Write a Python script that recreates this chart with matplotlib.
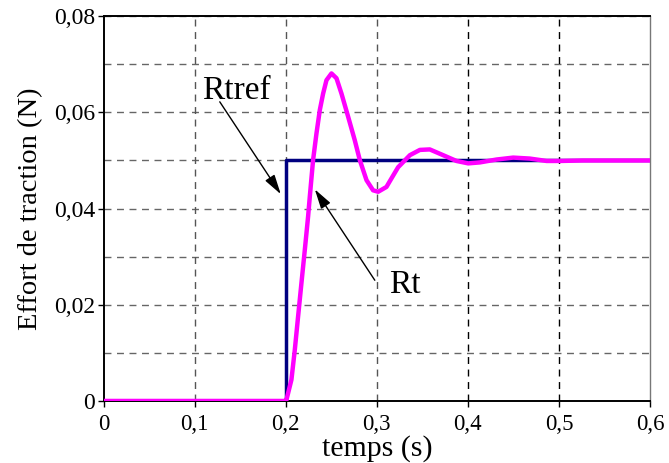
import numpy as np
import matplotlib
matplotlib.use("Agg")
import matplotlib.pyplot as plt
from matplotlib.ticker import FuncFormatter

plt.rcParams['font.family'] = ['Liberation Serif', 'DejaVu Serif']

# reference step Rtref
tref = [0.0, 0.2, 0.2, 0.6]
rtref = [0.0, 0.0, 0.05, 0.05]

t = [0.0, 0.199, 0.2007, 0.2062, 0.2099, 0.2135, 0.2172, 0.2209, 0.2245, 0.2264,
     0.2300, 0.2337, 0.2374, 0.2410, 0.2447, 0.2502, 0.2557, 0.2612, 0.2685,
     0.2758, 0.2813, 0.2887, 0.2959, 0.3015, 0.3106, 0.3143, 0.3234, 0.3363,
     0.3473, 0.3582, 0.3729, 0.3875, 0.4004, 0.4132, 0.4315, 0.4498, 0.4680,
     0.4865, 0.5010, 0.5260, 0.6000]
rt = [0.0, 0.0, 0.0002, 0.0044, 0.0106, 0.0175, 0.0245, 0.0314, 0.0383, 0.0425,
      0.0501, 0.0556, 0.0605, 0.0639, 0.0667, 0.0681, 0.0671, 0.0639, 0.0591,
      0.0542, 0.0501, 0.0459, 0.0438, 0.0435, 0.0445, 0.0457, 0.0486, 0.0511,
      0.0522, 0.0523, 0.0511, 0.0499, 0.0494, 0.0496, 0.0502, 0.0506, 0.0504,
      0.0499, 0.0499, 0.0500, 0.0500]

xticks = [0.0, 0.1, 0.2, 0.3, 0.4, 0.5, 0.6]
yticks = [0.0, 0.02, 0.04, 0.06, 0.08]


def comma(v, pos):
    if abs(v) < 1e-12:
        return "0"
    return ("%g" % v).replace(".", ",")


fig = plt.figure(figsize=(6.69, 4.63), dpi=100)
ax = fig.add_axes([0.155, 0.134, 0.8165, 0.831])

# grid (dashed)
for yv in np.arange(0.01, 0.08, 0.01):
    ax.axhline(yv, color='#666666', lw=1.0, ls=(0, (5, 4)), zorder=1)
for xv in xticks[1:-1]:
    ax.axvline(xv, color='#555555' if xv < 0.35 else 'black', lw=1.0,
               ls=(0, (5, 4)), zorder=1)

ax.plot(tref, rtref, color='#000080', lw=2.5, zorder=3)
ax.plot(t, rt, color='#ff00ff', lw=3.2, zorder=4, solid_joinstyle='round')

arrow = dict(arrowstyle='-|>,head_length=1.0,head_width=0.28', color='black',
             lw=1.0, shrinkA=0, shrinkB=0, mutation_scale=12)
ax.annotate("", xy=(0.1945, 0.0430), xytext=(0.1275, 0.0622), arrowprops=arrow, zorder=5)
ax.annotate("", xy=(0.2319, 0.0440), xytext=(0.2978, 0.0251), arrowprops=arrow, zorder=5)
ax.text(0.1462, 0.0628, "Rtref", fontsize=24, ha='center', va='baseline', zorder=6)
ax.text(0.3308, 0.0225, "Rt", fontsize=24, ha='center', va='baseline', zorder=6)

ax.set_xlim(0, 0.6)
ax.set_ylim(0, 0.08)
ax.set_xticks(xticks)
ax.set_yticks(yticks)
ax.xaxis.set_major_formatter(FuncFormatter(comma))
ax.yaxis.set_major_formatter(FuncFormatter(comma))
ax.tick_params(direction='out', width=1, labelsize=17)
ax.tick_params(axis='x', length=4.5, pad=5, labelsize=16.5)
ax.tick_params(axis='y', length=4, pad=2)
ax.tick_params(top=False, right=False)

for side in ['left', 'bottom', 'top']:
    ax.spines[side].set_color('black')
    ax.spines[side].set_linewidth(1.4)
ax.spines['right'].set_color('#777777')
ax.spines['right'].set_linewidth(1.0)

ax.set_xlabel("temps (s)", fontsize=21.5, labelpad=0)
ax.set_ylabel("Effort de traction (N)", fontsize=20.5, labelpad=8)

fig.savefig("out.png", dpi=100)
